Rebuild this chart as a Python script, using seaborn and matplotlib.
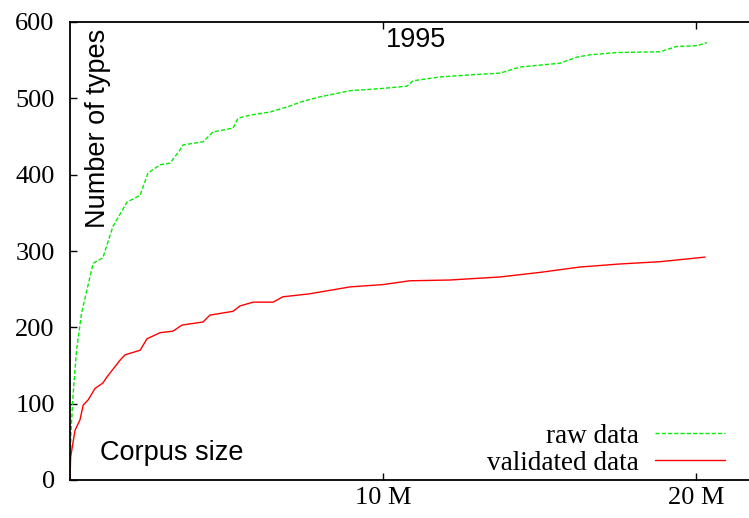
import numpy as np
import pandas as pd
import seaborn as sns
import matplotlib.pyplot as plt

# corpus size (millions of tokens) vs number of types
raw_x = [0.0, 0.03, 0.08, 0.15, 0.21, 0.37, 0.74, 1.05, 1.37, 1.82, 2.24, 2.49, 2.88, 3.19,
         3.51, 3.61, 4.25, 4.57, 5.21, 5.37, 5.75, 6.39, 7.03, 7.35, 7.99, 8.95, 10.0, 10.77,
         10.96, 11.82, 12.88, 13.74, 14.06, 14.38, 15.65, 16.2, 16.61, 17.48, 18.85, 19.39,
         20.03, 20.35]
raw_y = [0, 60, 100, 140, 170, 219, 284, 291, 332, 364, 373, 402, 413, 415,
         432, 439, 443, 456, 461, 474, 478, 482, 490, 495, 502, 510, 513, 516,
         523, 528, 531, 533, 537, 541, 546, 554, 557, 560, 561, 568,
         569, 573]

val_x = [0.0, 0.02, 0.16, 0.32, 0.42, 0.58, 0.8, 1.05, 1.18, 1.6, 1.76, 2.24, 2.46, 2.88,
         3.29, 3.58, 4.25, 4.47, 5.21, 5.43, 5.85, 6.49, 6.8, 7.67, 8.95, 10.0, 10.86,
         12.14, 13.74, 15.02, 16.29, 17.57, 18.85, 20.29]
val_y = [0, 30, 65, 79, 98, 105, 120, 127, 135, 157, 164, 170, 185, 193,
         195, 203, 207, 216, 221, 228, 233, 233, 240, 244, 253, 256, 261,
         262, 266, 272, 279, 283, 286, 292]

xticks = [10, 20]
xtick_labels = ['10 M', '20 M']
yticks = [0, 100, 200, 300, 400, 500, 600]

sns.set_style('ticks')
plt.rcParams['text.color'] = 'black'
serif = ['Liberation Serif', 'DejaVu Serif']
sans = ['Liberation Sans', 'DejaVu Sans']

fig = plt.figure(figsize=(7.49, 5.18), dpi=100)
ax = fig.add_axes([70 / 749, 38 / 518, 22 * 31.3 / 749, 458 / 518])

sns.lineplot(x=raw_x, y=raw_y, ax=ax, color='#00ee00', lw=1.0,
             dashes=False, label='raw data')
ax.lines[-1].set_dashes((3, 1.5))
sns.lineplot(x=val_x, y=val_y, ax=ax, color='#ff0000', lw=1.0, label='validated data')

ax.set_xlim(0, 22)
ax.set_ylim(0, 600)
ax.set_xticks(xticks)
ax.set_xticklabels(xtick_labels, family=serif, fontsize=19, color='black')
ax.set_yticks(yticks)
ax.set_yticklabels([str(v) for v in yticks], family=serif, fontsize=19, color='black')
ax.tick_params(direction='in', length=5, width=1, top=True, right=True, color='black')
ax.tick_params(axis='x', pad=5)
ax.tick_params(axis='y', pad=11)
for s in ax.spines.values():
    s.set_linewidth(1.3)
    s.set_color('black')

ax.text(0.022, 0.985, 'Number of types', transform=ax.transAxes, rotation=90,
        ha='left', va='top', family=sans, fontsize=19.5, color='black')
ax.text(0.043, 0.03, 'Corpus size', transform=ax.transAxes,
        ha='left', va='bottom', family=sans, fontsize=19.5, color='black')
ax.text(0.503, 0.99, '1995', transform=ax.transAxes,
        ha='center', va='top', family=sans, fontsize=19.5, color='black')

leg = ax.legend(loc='lower right', bbox_to_anchor=(0.987, -0.044), frameon=False,
                markerfirst=False, handlelength=2.6, handletextpad=0.6,
                labelspacing=0.08, prop={'family': serif, 'size': 19.5})
for t in leg.get_texts():
    t.set_ha('right')
    t.set_color('black')

fig.savefig('out.png', dpi=100)
